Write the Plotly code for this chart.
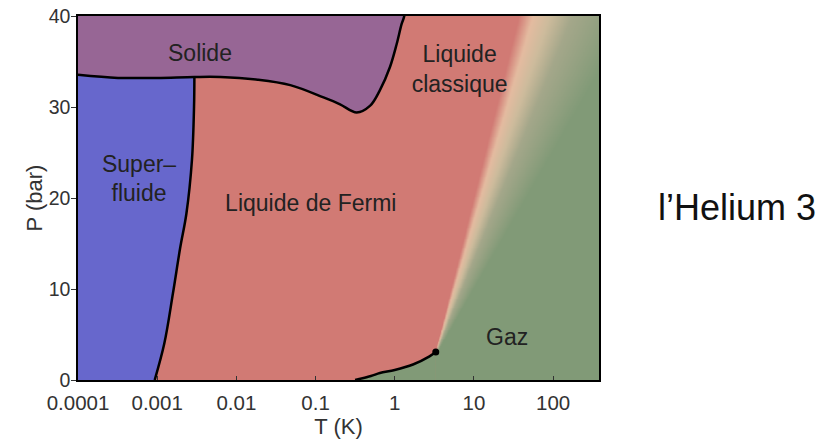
import numpy as np
import plotly.graph_objects as go

# ---- data (T in K, P in bar) ----
melt_T = [0.0001, 0.00032, 0.001, 0.00295, 0.0063, 0.0186, 0.048, 0.126, 0.204,
          0.331, 0.49, 0.646, 0.871, 1.057, 1.22, 1.32]
melt_P = [33.55, 33.2, 33.2, 33.3, 33.3, 33.0, 32.4, 31.05, 30.3,
          29.4, 30.15, 31.8, 34.4, 36.9, 39.1, 40.0]

sf_T = [0.00093, 0.00123, 0.00158, 0.00195, 0.00234, 0.00275, 0.00292, 0.00295]
sf_P = [0.0, 4.0, 9.5, 14.5, 18.3, 24.2, 30.0, 33.3]

vap_T = [0.316, 0.5, 0.65, 1.0, 1.7, 2.75, 3.3]
vap_P = [0.0, 0.44, 0.77, 1.1, 1.7, 2.6, 3.07]

crit_T, crit_P = vap_T[-1], vap_P[-1]

x_tickvals = [0.0001, 0.001, 0.01, 0.1, 1, 10, 100]
x_ticktext = ["0.0001", "0.001", "0.01", "0.1", "1", "10", "100"]
y_tickvals = [0, 10, 20, 30, 40]

labels = [
    ("Solide", 0.00347, 35.7),
    ("Super–<br>fluide", 0.00059, 21.9),
    ("Liquide de Fermi", 0.087, 19.2),
    ("Liquide<br>classique", 6.6, 33.9),
    ("Gaz", 26.3, 4.5),
]

# ---- colours ----
C_RED = "#D17A74"
C_BLUE = "#6767CC"
C_PURPLE = "#976695"
C_GREEN = "#819A77"

# ---- supercritical gradient (liquid -> gas crossover), shading only ----
lx = np.linspace(0.3, 2.65, 471)
py = np.linspace(-0.5, 40.5, 206)
LX, PY = np.meshgrid(lx, py)
edge = np.log10(crit_T) + 0.0285 * (PY - crit_P)
width = 0.005 + 0.0095 * np.clip(PY - crit_P, 0, None)
u = (LX - edge) / width
u = np.where(PY <= crit_P, np.where(LX > np.log10(crit_T), 10.0, -1.0), u)
u = np.round(np.clip(u, -0.5, 4.0), 3)

zmin, zmax = -0.5, 4.0
def n(v):
    return (v - zmin) / (zmax - zmin)
cscale = [
    [0.0, C_RED],
    [n(0.0), C_RED],
    [n(0.5), "#E4BBA0"],
    [n(1.1), "#CDBB9C"],
    [n(1.9), "#A4A78A"],
    [1.0, C_GREEN],
]

FONT = "Liberation Sans"

fig = go.Figure()
fig.add_trace(go.Heatmap(
    x=10 ** lx, y=py, z=u, colorscale=cscale, zmin=zmin, zmax=zmax,
    showscale=False, hoverinfo="skip"))

# gas region below the vaporisation curve
fig.add_trace(go.Scatter(
    x=vap_T + [crit_T, vap_T[0]], y=vap_P + [-2, -2], mode="lines",
    fill="toself", fillcolor=C_GREEN, line=dict(width=0), hoverinfo="skip"))

# superfluid region
fig.add_trace(go.Scatter(
    x=sf_T + [3e-5, 3e-5], y=sf_P + [35, -2], mode="lines",
    fill="toself", fillcolor=C_BLUE, line=dict(width=0), hoverinfo="skip"))

# solid region with melting curve
fig.add_trace(go.Scatter(
    x=melt_T + [1.45, 3e-5, 3e-5], y=melt_P + [43, 43, melt_P[0]],
    mode="lines", fill="toself", fillcolor=C_PURPLE,
    line=dict(color="black", width=2.5, shape="spline"), hoverinfo="skip"))

# boundaries
fig.add_trace(go.Scatter(x=sf_T, y=sf_P, mode="lines",
                         line=dict(color="black", width=2.5, shape="spline"),
                         hoverinfo="skip"))
fig.add_trace(go.Scatter(x=vap_T, y=vap_P, mode="lines",
                         line=dict(color="black", width=2.5, shape="spline"),
                         hoverinfo="skip"))
fig.add_trace(go.Scatter(x=[crit_T], y=[crit_P], mode="markers",
                         marker=dict(color="black", size=7), hoverinfo="skip"))

# region labels
fig.add_trace(go.Scatter(
    x=[l[1] for l in labels], y=[l[2] for l in labels],
    text=[l[0] for l in labels], mode="text",
    textfont=dict(family=FONT, size=23, color="#222222"),
    hoverinfo="skip"))

fig.add_annotation(text="l’Helium 3", xref="paper", yref="paper",
                   x=1.265, y=0.475, xanchor="center", yanchor="middle",
                   showarrow=False,
                   font=dict(family=FONT, size=36, color="#111111"))

fig.update_layout(
    width=826, height=444,
    margin=dict(l=78, r=227, t=16, b=64),
    paper_bgcolor="white", plot_bgcolor=C_RED,
    showlegend=False,
    font=dict(family=FONT, size=20, color="#333333"),
)
fig.update_xaxes(
    type="log", range=[-4, np.log10(380)], automargin=False,
    tickvals=x_tickvals, ticktext=x_ticktext,
    ticks="inside", ticklen=4, tickcolor="#333333", ticklabelstandoff=4,
    tickfont=dict(size=20.5),
    showgrid=False, zeroline=False,
    showline=True, linecolor="black", linewidth=1.5, mirror=True,
    title=dict(text="T (K)", font=dict(size=22), standoff=2),
)
fig.update_yaxes(
    range=[0, 40], tickvals=y_tickvals, automargin=False,
    ticks="outside", ticklen=5, tickcolor="#333333", ticklabelstandoff=-3,
    tickfont=dict(size=19.5),
    showgrid=False, zeroline=False,
    showline=True, linecolor="black", linewidth=1.5, mirror=True,
    title=dict(text="P (bar)", font=dict(size=22), standoff=0),
)

fig.write_html("out.html")
